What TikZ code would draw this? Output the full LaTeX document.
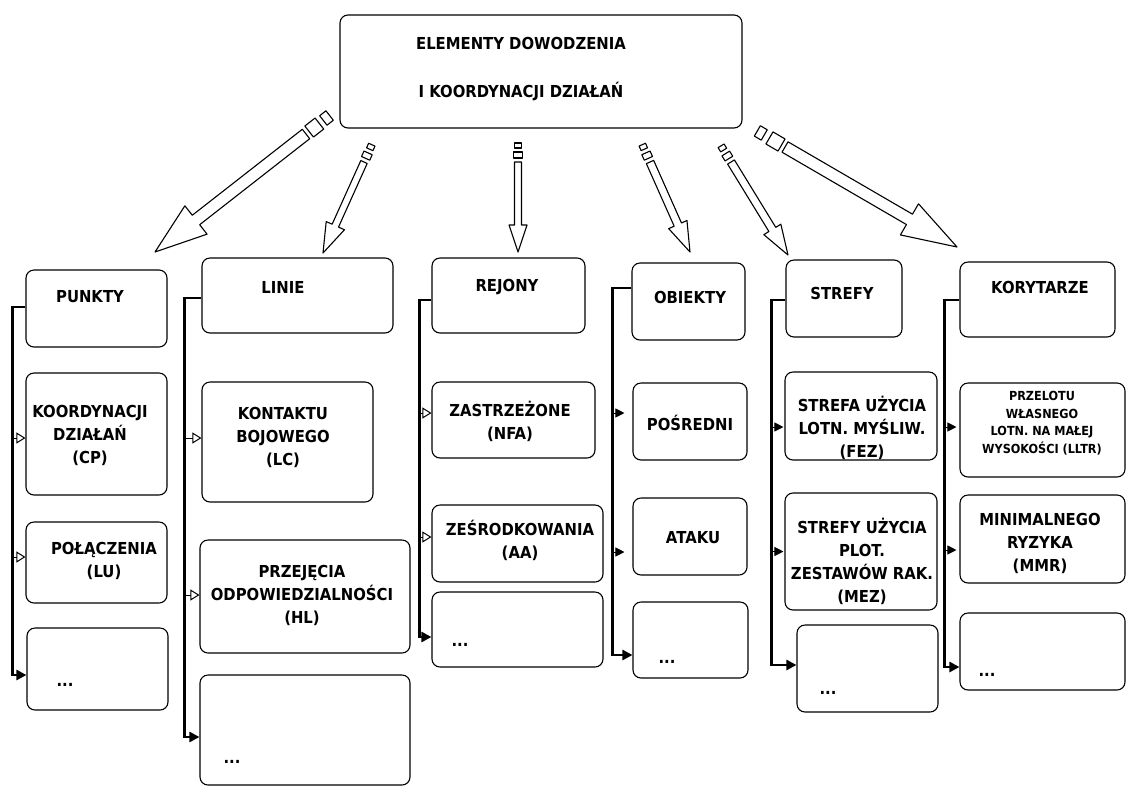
\documentclass[tikz,border=0pt]{standalone}
\usepackage{fontspec}
\newfontfamily\lbl{DejaVu Sans}[FakeStretch=0.9]
\usetikzlibrary{calc,arrows.meta}
\tikzset{
  box/.style={draw, rounded corners=8pt, line width=1.1pt, inner sep=0pt},
  txt/.style={align=center, font=\lbl\bfseries\fontsize{16.5}{23}\selectfont, inner sep=0pt},
  smalltxt/.style={txt, font=\lbl\bfseries\fontsize{12.5}{17.5}\selectfont},
  trunk/.style={line width=2.5pt},
  endarr/.style={trunk, -{Triangle[length=10pt,width=10pt]}},
  fillarr/.style={line width=1pt, -{Triangle[length=9pt,width=9pt]}},
  openarr/.style={line width=1pt, -{Triangle[open,length=9pt,width=11pt]}},
  bigarrow/.style={draw, line width=1.1pt, line join=round},
}
\newcommand\boxn[8]{%
  \node[box, minimum width={#4-#2}, minimum height={#5-#3}] (#1) at ({(#2+#4)/2},{(#3+#5)/2}) {};
  \node[txt] (#1t) at (#6,#7) {#8};}
% block arrow: source, tip, half shaft width, half head width, head length
\newcommand\blockarrow[5]{%
  \coordinate (bap) at ($(#2)!#5pt!(#1)$);
  \draw[bigarrow] ($(#1)!#3pt!90:(#2)$) -- ($(bap)!#3pt!-90:(#1)$) -- ($(bap)!#4pt!-90:(#1)$) -- (#2)
     -- ($(bap)!#4pt!90:(#1)$) -- ($(bap)!#3pt!90:(#1)$) -- ($(#1)!#3pt!-90:(#2)$) -- cycle;}
% small rectangle on the axis behind the source: from d1 to d2, half width
\newcommand\axrect[5]{%
  \coordinate (qa) at ($(#1)!#3pt!180:(#2)$);
  \coordinate (qb) at ($(#1)!#4pt!180:(#2)$);
  \draw[bigarrow] ($(qa)!#5pt!90:(#2)$) -- ($(qb)!#5pt!90:(#2)$) -- ($(qb)!#5pt!-90:(#2)$) -- ($(qa)!#5pt!-90:(#2)$) -- cycle;}
% branch arrow from trunk to a box
\newcommand\branch[4]{% style, trunk coord, node, dy
  \coordinate (tmp) at ($(#3.west)+(0,#4)$);
  \draw[#1] (#2 |- tmp) -- (tmp);}
\newcommand\stubarr[3]{% trunk coord, node, dy
  \coordinate (tmp) at ($(#2.west)+(0,#3)$);
  \draw[fillarr] (#1 |- tmp) -- ++(12,0);}
\begin{document}
\begin{tikzpicture}[x=1pt,y=-1pt]
\useasboundingbox (0,0) rectangle (1126,788);
\fill[white] (0,0) rectangle (1126,788);

% top box
\node[box, minimum width=402, minimum height=113] (top) at (541,71.5) {};
\node[txt] (topt) at (521,69) {ELEMENTY DOWODZENIA\\[25pt]I KOORDYNACJI DZIAŁAŃ};

% column PUNKTY
\boxn{p0}{26}{270}{167}{347}{90}{297}{PUNKTY}
\boxn{p1}{26}{373}{167}{495}{90}{435}{KOORDYNACJI\\DZIAŁAŃ\\(CP)}
\boxn{p2}{26}{522}{167}{603}{104}{561}{POŁĄCZENIA\\(LU)}
\boxn{p3}{27}{628}{168}{710}{65}{685}{...}

% column LINIE
\boxn{l0}{202}{258}{393}{333}{283}{287}{LINIE}
\boxn{l1}{202}{382}{373}{502}{283}{437}{KONTAKTU\\BOJOWEGO\\(LC)}
\boxn{l2}{200}{540}{410}{653}{302}{595}{PRZEJĘCIA\\ODPOWIEDZIALNOŚCI\\(HL)}
\boxn{l3}{200}{675}{410}{785}{232}{762}{...}

% column REJONY
\boxn{r0}{432}{258}{585}{333}{507}{287}{REJONY}
\boxn{r1}{432}{382}{595}{458}{510}{421}{ZASTRZEŻONE\\(NFA)}
\boxn{r2}{432}{505}{603}{582}{520}{540}{ZEŚRODKOWANIA\\(AA)}
\boxn{r3}{432}{592}{603}{667}{460}{645}{...}

% column OBIEKTY
\boxn{o0}{632}{263}{745}{340}{690}{297}{OBIEKTY}
\boxn{o1}{633}{383}{747}{460}{690}{423}{POŚREDNI}
\boxn{o2}{633}{498}{747}{575}{693}{538}{ATAKU}
\boxn{o3}{633}{602}{748}{678}{667}{662}{...}

% column STREFY
\boxn{s0}{786}{260}{902}{337}{842}{293}{STREFY}
\boxn{s1}{785}{372}{937}{460}{862}{428}{STREFA UŻYCIA\\LOTN. MYŚLIW.\\(FEZ)}
\boxn{s2}{785}{493}{937}{610}{862}{561}{STREFY UŻYCIA\\PLOT.\\ZESTAWÓW RAK.\\(MEZ)}
\boxn{s3}{797}{625}{938}{712}{828}{693}{...}

% column KORYTARZE
\boxn{k0}{960}{262}{1115}{337}{1040}{287}{KORYTARZE}
\node[box, minimum width=165, minimum height=94] (k1) at (1042.5,430) {};
\node[smalltxt] (k1t) at (1042,423) {PRZELOTU\\WŁASNEGO\\LOTN. NA MAŁEJ\\WYSOKOŚCI (LLTR)};
\boxn{k2}{960}{495}{1125}{583}{1040}{543}{MINIMALNEGO\\RYZYKA\\(MMR)}
\boxn{k3}{960}{613}{1125}{690}{987}{675}{...}

% trunks
\coordinate (e1) at ($(p3.west)+(0,6)$);
\draw[endarr] ($(p0.west)+(0,-1.5)$) -- ++(-13,0) coordinate (tr1) |- (e1);
\coordinate (e2) at ($(l3.west)+(0,7)$);
\draw[endarr] ($(l0.west)+(0,2.5)$) -- ++(-17,0) coordinate (tr2) |- (e2);
\coordinate (e3) at ($(r3.west)+(0,7.5)$);
\draw[endarr] ($(r0.west)+(0,4.5)$) -- ++(-12,0) coordinate (tr3) |- (e3);
\coordinate (e4) at ($(o3.west)+(0,15)$);
\draw[endarr] ($(o0.west)+(0,-13.5)$) -- ++(-19,0) coordinate (tr4) |- (e4);
\coordinate (e5) at ($(s3.west)+(0,-3.5)$);
\draw[endarr] ($(s0.west)+(0,1.5)$) -- ++(-14,0) coordinate (tr5) |- (e5);
\coordinate (e6) at ($(k3.west)+(0,15.5)$);
\draw[endarr] ($(k0.west)+(0,0.5)$) -- ++(-15,0) coordinate (tr6) |- (e6);

% branch arrows
\branch{openarr}{tr1}{p1}{4}
\branch{openarr}{tr1}{p2}{-5.5}
\branch{openarr}{tr2}{l1}{-4}
\branch{openarr}{tr2}{l2}{-1.5}
\branch{openarr}{tr3}{r1}{-7}
\branch{openarr}{tr3}{r2}{-6.5}
\stubarr{tr4}{o1}{-8.5}
\stubarr{tr4}{o2}{15.5}
\stubarr{tr5}{s1}{11}
\stubarr{tr5}{s2}{0}
\stubarr{tr6}{k1}{-3}
\stubarr{tr6}{k2}{11}

% block arrows from the top box
\coordinate (as1) at (306,134); \coordinate (at1) at (155,252);
\coordinate (as2) at (364,162); \coordinate (at2) at (323,253);
\coordinate (as3) at (518,162); \coordinate (at3) at (518,252);
\coordinate (as4) at (650,162); \coordinate (at4) at (690,252);
\coordinate (as5) at (731,162); \coordinate (at5) at (788,255);
\coordinate (as6) at (785,147); \coordinate (at6) at (957,247);

\blockarrow{as1}{at1}{6}{18}{52}
\axrect{as1}{at1}{4}{17}{7}
\axrect{as1}{at1}{22}{30}{6}
\blockarrow{as2}{at2}{3.5}{10}{30}
\axrect{as2}{at2}{4}{10}{4.5}
\axrect{as2}{at2}{14}{19}{3.5}
\blockarrow{as3}{at3}{3.5}{9}{27}
\axrect{as3}{at3}{4}{10}{4.5}
\axrect{as3}{at3}{14}{19}{3.5}
\blockarrow{as4}{at4}{4}{10}{30}
\axrect{as4}{at4}{4}{10}{4.5}
\axrect{as4}{at4}{14}{19}{3.5}
\blockarrow{as5}{at5}{4}{10}{30}
\axrect{as5}{at5}{4}{10}{4.5}
\axrect{as5}{at5}{14}{19}{3.5}
\blockarrow{as6}{at6}{6}{18}{55}
\axrect{as6}{at6}{4}{18}{7}
\axrect{as6}{at6}{24}{32}{6}
\end{tikzpicture}
\end{document}
